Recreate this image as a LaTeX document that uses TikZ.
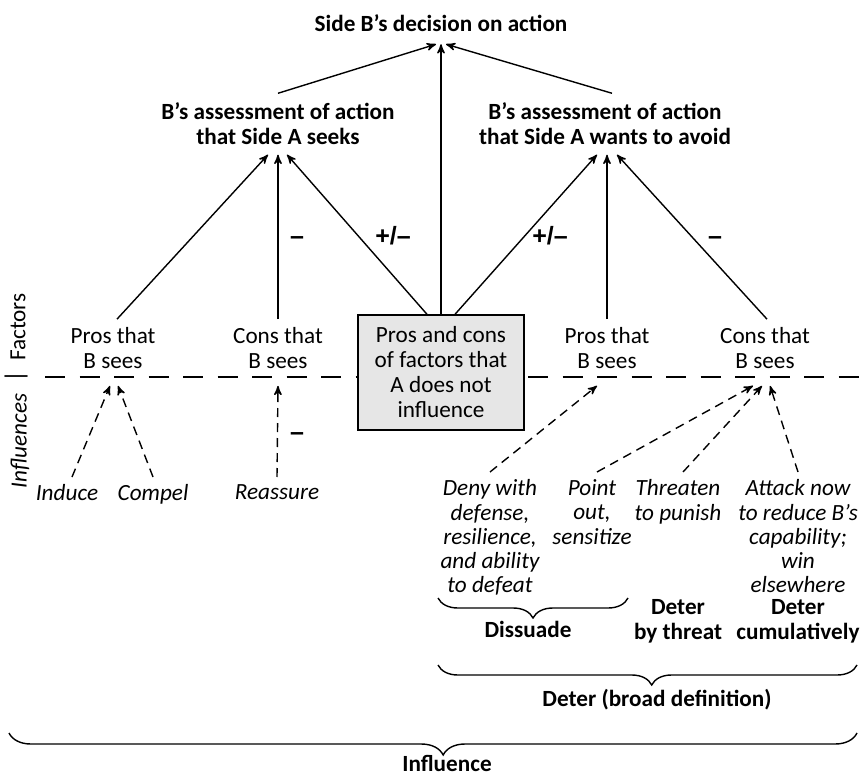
\documentclass[tikz,border=0pt]{standalone}
\usepackage{fontspec}
\setmainfont{Carlito}
\newfontfamily\signfont{Liberation Sans}
\usetikzlibrary{arrows,decorations.pathreplacing}
\definecolor{boxgray}{RGB}{230,230,230}

\begin{document}
\begin{tikzpicture}[x=0.5pt,y=-0.5pt,>=stealth',line width=0.7pt,
  main node/.style={font=\fontsize{11.6}{12.5}\selectfont,align=center,inner xsep=2pt,inner ysep=3.75pt},
  head node/.style={main node,font=\fontsize{11.6}{12.5}\selectfont\bfseries,inner ysep=4.5pt},
  move node/.style={main node,font=\fontsize{11.6}{12.1}\selectfont\itshape,anchor=north,inner sep=3.5pt},
  sign node/.style={font=\signfont\fontsize{12.5}{14}\selectfont\bfseries,anchor=base},
  influ/.style={->,dash pattern=on 4.5pt off 3pt},
  bracedown/.style={decorate,decoration={brace,mirror,amplitude=#1}}]
  \useasboundingbox (0,0) rectangle (860,774);
  \draw[dash pattern=on 10pt off 7.25pt] (45,377) -- (860,377);
  \node[head node,inner ysep=6pt] (dec)   at (441,23)  {Side B’s decision on action};
  \node[head node]   (seek)  at (278,124) {B’s assessment of action\\that Side A seeks};
  \node[head node]   (avoid) at (605,124) {B’s assessment of action\\that Side A wants to avoid};
  \node[main node]   (pa)    at (113,348) {Pros that\\B sees};
  \node[main node]   (ca)    at (278,348) {Cons that\\B sees};
  \node[main node,draw,fill=boxgray,minimum width=83pt,minimum height=57.5pt]
                     (mid)   at (441,372.5) {Pros and cons\\of factors that\\A does not\\influence};
  \node[main node]   (pb)    at (607,348) {Pros that\\B sees};
  \node[main node]   (cb)    at (765,348) {Cons that\\B sees};
  \node[main node,rotate=90]                 (fac) at (18,327) {Factors};
  \node[main node,rotate=90,font=\fontsize{13}{14}\selectfont] (bar) at (16,377) {|};
  \node[main node,rotate=90,font=\fontsize{11.6}{12.5}\selectfont\itshape] (inf) at (20,441) {Influences};
  \node[move node]   (ind)   at (67,477)  {Induce};
  \node[move node]   (com)   at (153,477) {Compel};
  \node[move node]   (rea)   at (277,477) {Reassure};
  \node[move node]   (den)   at (490,472) {Deny with\\defense,\\resilience,\\and ability\\to defeat};
  \node[move node]   (poi)   at (592,472) {Point\\out,\\sensitize};
  \node[move node]   (thr)   at (678,472) {Threaten\\to punish};
  \node[move node]   (att)   at (798,472) {Attack now\\to reduce B’s\\capability;\\win\\elsewhere};
  \node[sign node]   (s1)    at (297,245) {–};
  \node[sign node]   (s2)    at (393,245) {+/–};
  \node[sign node]   (s3)    at (550,245) {+/–};
  \node[sign node]   (s4)    at (715,245) {–};
  \node[sign node]   (s5)    at (297,440) {–};
  \node[head node]   (dis)   at (528,629) {Dissuade};
  \node[head node]   (dthr)  at (678,621) {Deter\\by threat};
  \node[head node]   (dcum)  at (798,621) {Deter\\cumulatively};
  \node[head node]   (dbro)  at (657,700) {Deter (broad definition)};
  \node[head node]   (infl)  at (447,763) {Influence};
  \draw[bracedown=10pt] (438,598) -- (628,598);
  \draw[bracedown=10pt,decoration={aspect=0.51}] (438,665) -- (857,665);
  \draw[bracedown=11pt,decoration={aspect=0.512}] (9,733) -- (857,733);
  \path
    (seek.north) edge [->] ([xshift=-2.5pt]dec.south)
    (mid.north) edge [->] (dec.south)
    ([xshift=3.5pt]avoid.north) edge [->] ([xshift=2.5pt]dec.south)
    ([xshift=2pt]pa.north) edge [->] ([xshift=-5pt]seek.south)
    (ca.north) edge [->] (seek.south)
    ([xshift=-7pt]mid.north) edge [->] ([xshift=4.5pt]seek.south)
    ([xshift=7pt]mid.north) edge [->] ([xshift=-4pt]avoid.south)
    (pb.north) edge [->] ([xshift=1pt]avoid.south)
    ([xshift=1pt]cb.north) edge [->] ([xshift=6pt]avoid.south);
  \path[every edge/.style={draw,influ}]
    ([xshift=2.5pt]ind.north) edge ([xshift=-1.5pt,yshift=-4.5pt]pa.south)
    (com.north) edge ([xshift=2.5pt,yshift=-4.5pt]pa.south)
    (rea.north) edge ([yshift=-4.5pt]ca.south)
    (den.north) edge ([xshift=-5pt,yshift=-4.5pt]pb.south)
    ([xshift=2.5pt]poi.north) edge ([xshift=-6pt,yshift=-4.5pt]cb.south)
    ([xshift=2.5pt]thr.north) edge ([xshift=-1.5pt,yshift=-4.5pt]cb.south)
    (att.north) edge ([xshift=2.5pt,yshift=-4.5pt]cb.south);
\end{tikzpicture}
\end{document}
